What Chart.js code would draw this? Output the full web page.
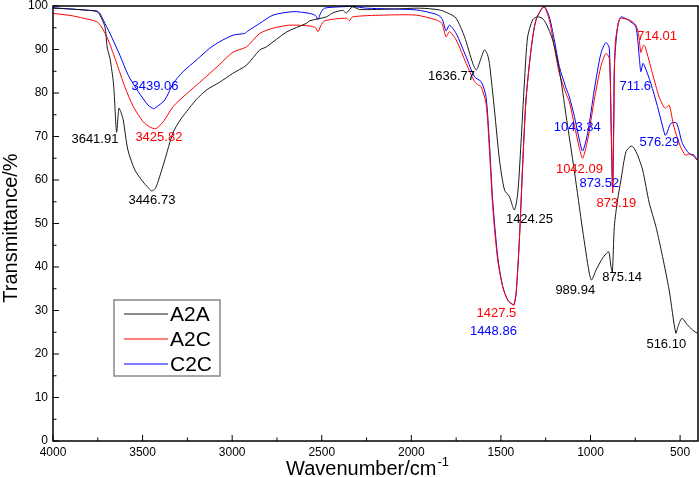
<!DOCTYPE html>
<html>
<head>
<meta charset="utf-8">
<script src="https://cdn.jsdelivr.net/npm/chart.js@4/dist/chart.umd.min.js"></script>
<style>
  html, body { margin: 0; padding: 0; background: #fff; }
  canvas { display: block; }
</style>
</head>
<body>
<canvas id="ftir" width="699" height="477"></canvas>
<script>
// Series names and colours
const seriesNames = ["A2A", "A2C", "C2C"];
const seriesColors = ["#1a1a1a", "#ff0000", "#0000ff"];

// A2A spectrum (wavenumber cm-1, transmittance %)
const a2aWavenumber = [4000, 3900, 3800, 3755, 3738, 3710, 3697, 3682, 3662, 3645, 3632, 3620, 3608, 3582, 3543, 3498, 3470, 3450, 3430, 3414, 3376, 3331, 3290, 3255, 3200, 3143, 3069, 2997, 2920, 2846, 2809, 2697, 2586, 2567, 2474, 2439, 2383, 2363, 2328, 2289, 2100, 1954, 1843, 1787, 1750, 1703, 1657, 1637, 1615, 1592, 1575, 1564, 1536, 1508, 1480, 1453, 1425, 1406, 1388, 1369, 1351, 1323, 1297, 1270, 1248, 1211, 1174, 1137, 1090, 1044, 1007, 994, 969, 933, 899, 886, 878, 867, 849, 830, 802, 774, 760, 737, 709, 672, 635, 598, 561, 524, 510, 490, 459, 430, 405];
const a2aTransmittance = [99.5, 99.3, 99.0, 98.7, 97.9, 95.2, 90.3, 88.0, 82.0, 71.0, 76.5, 75.5, 73.8, 66.9, 62.3, 59.6, 58.3, 57.5, 58.0, 59.6, 64.6, 70.8, 73.8, 75.7, 78.5, 80.7, 82.5, 84.5, 86.4, 89.9, 90.6, 94.0, 96.0, 96.6, 97.5, 98.4, 99.0, 98.4, 99.8, 99.2, 99.3, 99.5, 99.1, 98.2, 97.2, 92.9, 86.8, 85.3, 87.5, 89.9, 88.8, 86.8, 76.1, 64.6, 57.7, 56.2, 53.1, 57.0, 68.5, 82.3, 92.9, 96.8, 97.5, 97.2, 96.0, 92.2, 85.3, 75.0, 62.0, 48.5, 38.6, 37.0, 39.3, 42.0, 43.5, 40.1, 38.8, 49.3, 55.4, 60.0, 66.5, 67.8, 67.5, 65.7, 62.3, 54.7, 49.3, 42.4, 34.7, 24.8, 26.5, 28.2, 26.7, 25.5, 24.8];

// A2C spectrum
const a2cWavenumber = [4000, 3900, 3831, 3756, 3729, 3692, 3645, 3599, 3552, 3497, 3460, 3426, 3385, 3329, 3274, 3199, 3125, 3069, 2995, 2920, 2846, 2772, 2679, 2567, 2535, 2521, 2505, 2484, 2363, 2345, 2328, 2161, 1973, 1862, 1830, 1806, 1787, 1750, 1694, 1647, 1625, 1610, 1583, 1564, 1546, 1518, 1490, 1462, 1434, 1427, 1415, 1397, 1379, 1360, 1332, 1304, 1260, 1230, 1202, 1174, 1137, 1118, 1090, 1062, 1044, 1016, 979, 942, 914, 895, 884, 876, 870, 862, 840, 830, 784, 747, 730, 719, 705, 695, 654, 617, 584, 561, 535, 498, 470, 450, 433, 405];
const a2cTransmittance = [98.3, 97.8, 97.2, 96.4, 95.2, 92.2, 86.9, 81.4, 76.9, 73.4, 72.2, 71.8, 73.4, 76.9, 79.1, 81.8, 84.5, 86.6, 89.4, 90.6, 93.7, 94.9, 95.6, 95.4, 95.0, 94.1, 95.5, 96.6, 97.2, 96.6, 97.5, 97.9, 97.9, 96.8, 96.0, 92.9, 94.1, 92.2, 86.8, 82.6, 81.8, 81.4, 77.6, 66.9, 53.9, 41.6, 35.5, 32.4, 31.3, 31.2, 34.0, 46.2, 63.1, 78.4, 89.9, 96.8, 99.8, 96.8, 90.6, 84.5, 79.9, 78.0, 72.6, 67.3, 65.0, 69.2, 78.4, 86.1, 89.1, 88.0, 72.0, 57.0, 72.0, 91.4, 96.8, 97.2, 96.8, 95.6, 93.0, 89.3, 91.0, 90.6, 84.5, 79.1, 76.5, 77.2, 72.3, 67.7, 65.7, 66.0, 65.7, 64.6];

// C2C spectrum
const c2cWavenumber = [4000, 3900, 3800, 3747, 3710, 3673, 3627, 3580, 3524, 3469, 3439, 3431, 3376, 3329, 3274, 3199, 3125, 3069, 2995, 2930, 2911, 2846, 2772, 2660, 2567, 2535, 2521, 2505, 2484, 2400, 2328, 2251, 1973, 1862, 1830, 1806, 1787, 1750, 1694, 1647, 1610, 1583, 1564, 1546, 1518, 1490, 1462, 1438, 1427, 1415, 1397, 1379, 1360, 1332, 1304, 1260, 1230, 1202, 1174, 1137, 1118, 1090, 1062, 1044, 1016, 979, 942, 914, 895, 884, 877, 870, 867, 849, 830, 784, 747, 728, 719, 708, 700, 663, 626, 584, 576, 552, 520, 487, 450, 422, 405];
const c2cTransmittance = [99.6, 99.3, 99.0, 98.7, 96.0, 92.9, 88.7, 84.1, 80.3, 77.2, 76.4, 76.5, 78.4, 82.2, 84.9, 87.6, 90.3, 91.8, 93.3, 93.7, 94.3, 96.0, 97.9, 98.7, 98.3, 97.8, 96.9, 98.5, 99.5, 99.8, 99.9, 99.5, 99.1, 98.1, 97.2, 94.3, 95.6, 93.7, 88.3, 83.7, 82.6, 79.1, 68.4, 55.4, 42.4, 35.5, 32.4, 31.5, 31.4, 34.0, 46.2, 63.1, 78.4, 89.9, 96.8, 99.9, 97.5, 92.2, 86.1, 81.2, 79.1, 74.6, 69.2, 66.7, 70.7, 80.7, 89.1, 91.6, 90.3, 70.0, 58.2, 75.0, 86.1, 95.2, 97.5, 96.6, 95.2, 88.3, 84.9, 86.8, 86.4, 82.2, 76.9, 70.3, 70.5, 73.0, 73.1, 68.4, 66.1, 65.7, 64.6];

// Axis ticks
const xTickValues = [500, 1000, 1500, 2000, 2500, 3000, 3500, 4000];
const xMinorValues = [750, 1250, 1750, 2250, 2750, 3250, 3750];
const yTickValues = [0, 10, 20, 30, 40, 50, 60, 70, 80, 90, 100];
const yMinorValues = [5, 15, 25, 35, 45, 55, 65, 75, 85, 95];

// Peak labels: text, series index, where the text sits (wavenumber, transmittance)
const peakText = ["3641.91", "3446.73", "1636.77", "1424.25", "989.94", "875.14", "516.10",
                  "3425.82", "1427.5", "1042.09", "873.19", "714.01",
                  "3439.06", "1448.86", "1043.34", "873.52", "711.6", "576.29"];
const peakSeries = [0, 0, 0, 0, 0, 0, 0, 1, 1, 1, 1, 1, 2, 2, 2, 2, 2, 2];
const peakAtWn = [3766, 3448, 1776, 1341, 1085, 823, 577, 3409, 1525, 1062, 856, 628, 3431, 1542, 1074, 951, 750, 616];
const peakAtT = [69.4, 55.4, 83.9, 51.0, 34.7, 37.7, 22.1, 69.9, 29.4, 62.5, 54.7, 92.9, 81.6, 25.3, 72.2, 59.1, 81.6, 68.7];
const labelColors = ["#000", "#ff0000", "#0000ff"];

const FONT = '"Liberation Sans", Arial, sans-serif';

function toPoints(xs, ys) {
  return xs.map((x, i) => ({ x: x, y: ys[i] }));
}

const spectra = [
  toPoints(a2aWavenumber, a2aTransmittance),
  toPoints(a2cWavenumber, a2cTransmittance),
  toPoints(c2cWavenumber, c2cTransmittance)
];

// Frame, inward ticks, axis titles, peak labels and legend
const decor = {
  id: "decor",
  afterDraw(chart) {
    const { ctx, chartArea: a, scales: { x, y } } = chart;
    ctx.save();

    ctx.strokeStyle = "#000";
    ctx.lineWidth = 1;
    ctx.beginPath();
    xTickValues.forEach(v => { const p = x.getPixelForValue(v); ctx.moveTo(p, a.bottom); ctx.lineTo(p, a.bottom - 6); });
    xMinorValues.forEach(v => { const p = x.getPixelForValue(v); ctx.moveTo(p, a.bottom); ctx.lineTo(p, a.bottom - 3.5); });
    yTickValues.forEach(v => { const p = y.getPixelForValue(v); ctx.moveTo(a.left, p); ctx.lineTo(a.left + 6, p); });
    yMinorValues.forEach(v => { const p = y.getPixelForValue(v); ctx.moveTo(a.left, p); ctx.lineTo(a.left + 3.5, p); });
    ctx.stroke();

    ctx.lineWidth = 1.5;
    ctx.strokeRect(a.left, a.top, a.right - a.left, a.bottom - a.top);

    // peak labels
    ctx.font = "13px " + FONT;
    ctx.textAlign = "center";
    ctx.textBaseline = "middle";
    peakText.forEach((t, i) => {
      ctx.fillStyle = labelColors[peakSeries[i]];
      ctx.fillText(t, x.getPixelForValue(peakAtWn[i]), y.getPixelForValue(peakAtT[i]));
    });

    // x title with superscript
    ctx.fillStyle = "#000";
    ctx.textBaseline = "alphabetic";
    ctx.textAlign = "left";
    ctx.font = "20px " + FONT;
    const main = "Wavenumber/cm";
    const wMain = ctx.measureText(main).width;
    ctx.font = "13px " + FONT;
    const wSup = ctx.measureText("-1").width;
    const startX = 367 - (wMain + wSup) / 2;
    ctx.font = "20px " + FONT;
    ctx.fillText(main, startX, 475);
    ctx.font = "13px " + FONT;
    ctx.fillText("-1", startX + wMain + 1, 466);

    // y title
    ctx.save();
    ctx.translate(17, 228);
    ctx.rotate(-Math.PI / 2);
    ctx.textAlign = "center";
    ctx.font = "20px " + FONT;
    ctx.fillText("Transmittance/%", 0, 0);
    ctx.restore();

    // legend box
    const lx = 114, ly = 300, lw = 106, lh = 76;
    ctx.fillStyle = "#fff";
    ctx.fillRect(lx, ly, lw, lh);
    ctx.strokeStyle = "#888";
    ctx.lineWidth = 1.5;
    ctx.strokeRect(lx, ly, lw, lh);
    ctx.font = "21px " + FONT;
    ctx.textBaseline = "middle";
    ctx.textAlign = "left";
    for (let i = 0; i < seriesNames.length; i++) {
      const ry = 314 + i * 25;
      ctx.lineWidth = 1.2;
      ctx.strokeStyle = seriesColors[i];
      ctx.beginPath();
      ctx.moveTo(124, ry);
      ctx.lineTo(168, ry);
      ctx.stroke();
      ctx.fillStyle = "#000";
      ctx.fillText(seriesNames[i], 170, ry + 1);
    }

    ctx.restore();
  }
};

const chart = new Chart(document.getElementById("ftir"), {
  type: "line",
  data: {
    datasets: spectra.map((pts, i) => ({
      label: seriesNames[i],
      data: pts,
      borderColor: seriesColors[i],
      borderWidth: 1,
      pointRadius: 0,
      tension: 0.25,
      fill: false
    }))
  },
  options: {
    responsive: false,
    animation: false,
    devicePixelRatio: 1,
    layout: { padding: { top: 6, right: 1, left: 0, bottom: 0 } },
    plugins: { legend: { display: false }, tooltip: { enabled: false } },
    scales: {
      x: {
        type: "linear",
        reverse: true,
        min: 400,
        max: 4000,
        grid: { display: false, drawTicks: false },
        border: { display: false },
        afterBuildTicks: s => { s.ticks = xTickValues.map(v => ({ value: v })); },
        afterFit: s => { s.height = 36; s.paddingLeft = 0; s.paddingRight = 0; },
        ticks: { autoSkip: false, maxRotation: 0, padding: 4, color: "#000", font: { size: 12, family: FONT }, callback: v => String(v) }
      },
      y: {
        min: 0,
        max: 100,
        grid: { display: false, drawTicks: false },
        border: { display: false },
        afterBuildTicks: s => { s.ticks = yTickValues.map(v => ({ value: v })); },
        afterFit: s => { s.width = 53; s.paddingTop = 0; s.paddingBottom = 0; },
        ticks: { padding: 5, color: "#000", font: { size: 12, family: FONT }, callback: v => String(v) }
      }
    }
  },
  plugins: [decor]
});
</script>
</body>
</html>
